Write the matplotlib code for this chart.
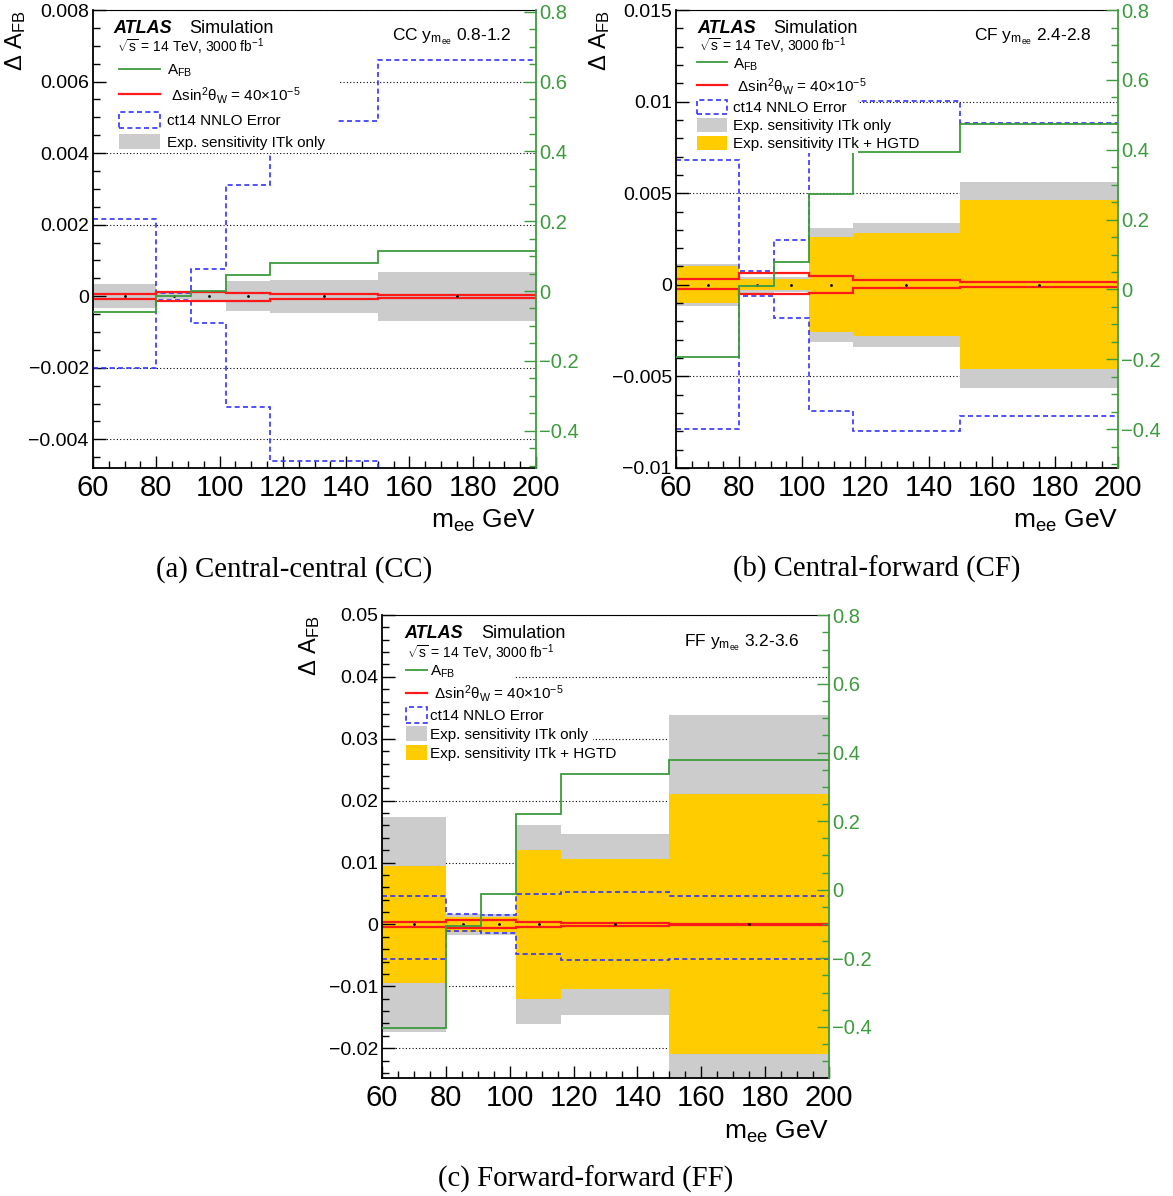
import matplotlib
matplotlib.use("Agg")
import matplotlib.pyplot as plt
from matplotlib.lines import Line2D
from matplotlib.patches import Patch, Rectangle
from matplotlib.ticker import MultipleLocator, FuncFormatter

plt.rcParams['font.family'] = ['Liberation Sans', 'DejaVu Sans']
plt.rcParams['mathtext.fontset'] = 'custom'
plt.rcParams['mathtext.rm'] = 'Liberation Sans'
plt.rcParams['mathtext.it'] = 'Liberation Sans:italic'
plt.rcParams['mathtext.bf'] = 'Liberation Sans:bold'

# m_ee bin edges (GeV)
edges = [60, 80, 91, 102, 116, 150, 200]
centers = [(a + b) / 2 for a, b in zip(edges[:-1], edges[1:])]
zeros = [0, 0, 0, 0, 0, 0]

# Central-central
cc_afb = [-0.061, -0.014, 0.001, 0.046, 0.080, 0.115]
cc_pdf_up = [0.00215, 0.0001, 0.00075, 0.0031, 0.0049, 0.0066]
cc_pdf_dn = [-0.0020, -0.0001, -0.00075, -0.0031, -0.0046, -0.0066]
cc_sin_up = [0.000065, 0.00013, 0.00013, 0.00009, 0.00007, 0.00004]
cc_sin_dn = [-0.000065, -0.00013, -0.00013, -0.00012, -0.00007, -0.00004]
cc_itk = [0.00033, 0.00008, 0.0001, 0.00042, 0.00046, 0.00068]

# Central-forward
cf_afb = [-0.192, 0.0105, 0.079, 0.274, 0.395, 0.474]
cf_pdf_up = [0.00679, 0.00076, 0.00242, 0.0095, 0.01005, 0.00884]
cf_pdf_dn = [-0.00785, -0.0006, -0.0018, -0.00691, -0.0080, -0.00715]
cf_sin_up = [0.00034, 0.00067, 0.00063, 0.00049, 0.00025, 0.00013]
cf_sin_dn = [-0.00023, -0.0005, -0.0005, -0.00042, -0.0002, -0.0001]
cf_itk = [0.00115, 0.00045, 0.0004, 0.00312, 0.00338, 0.00564]
cf_hgtd = [0.00102, 0.0003, 0.0003, 0.0026, 0.00282, 0.00462]

# Forward-forward
ff_afb = [-0.404, -0.107, -0.013, 0.222, 0.336, 0.378]
ff_pdf_up = [0.00457, 0.0017, 0.0015, 0.00484, 0.00527, 0.00457]
ff_pdf_dn = [-0.00565, -0.0010, -0.00134, -0.00484, -0.00575, -0.00554]
ff_sin_up = [0.00032, 0.0007, 0.0007, 0.00043, 0.00016, 0.0001]
ff_sin_dn = [-0.00038, -0.00065, -0.00065, -0.00038, -0.0002, -0.0001]
ff_itk = [0.0174, 0.0017, 0.0017, 0.0161, 0.0146, 0.0338]
ff_hgtd = [0.0095, 0.0012, 0.0012, 0.0121, 0.0105, 0.0210]

green = '#3d9b3d'
red = '#ff1a1a'
blue = '#3333ff'
gray = '#cccccc'
yellow = '#ffcc00'

fig = plt.figure(figsize=(11.73, 11.96), dpi=100)


def tick_fmt(v, pos):
    if abs(v) < 1e-12:
        return '0'
    return ('%g' % round(v, 6)).replace('-', '\u2212')


def panel(rect, ylim, ylim2, ymaj, ymin, afb, pdf_up, pdf_dn, sin_up, sin_dn, itk, hgtd,
          region, leg_anchor, leg_kw, boxes, ylab_x, caption, cap_xy, txt):
    ax = fig.add_axes(rect)
    ax.set_xlim(60, 200)
    ax.set_ylim(*ylim)

    # dotted grid at the major ticks
    y = ymaj * round(ylim[0] / ymaj)
    while y <= ylim[1] + 1e-12:
        ax.axhline(y, color='k', lw=0.8, ls=(0, (1, 2)), zorder=0.5)
        y += ymaj

    ax.stairs(itk, edges, baseline=[-v for v in itk], fill=True, color=gray, lw=0, zorder=1)
    if hgtd is not None:
        ax.stairs(hgtd, edges, baseline=[-v for v in hgtd], fill=True, color=yellow, lw=0, zorder=1.1)
    ax.stairs(pdf_up, edges, baseline=None, color=blue, lw=1.2, ls=(0, (3, 2)), zorder=2)
    ax.stairs(pdf_dn, edges, baseline=None, color=blue, lw=1.2, ls=(0, (3, 2)), zorder=2)
    ax.stairs(sin_up, edges, baseline=None, color=red, lw=1.6, zorder=2.2)
    ax.stairs(sin_dn, edges, baseline=None, color=red, lw=1.6, zorder=2.2)
    ax.plot(centers, zeros, 'k.', ms=2, zorder=2.4)

    ax.xaxis.set_major_locator(MultipleLocator(20))
    ax.xaxis.set_minor_locator(MultipleLocator(5))
    ax.yaxis.set_major_locator(MultipleLocator(ymaj))
    ax.yaxis.set_minor_locator(MultipleLocator(ymin))
    ax.yaxis.set_major_formatter(FuncFormatter(tick_fmt))
    ax.tick_params(which='both', direction='in', top=False, right=False, width=1)
    ax.tick_params(which='major', length=9)
    ax.tick_params(which='minor', length=5)
    ax.tick_params(axis='x', labelsize=21, pad=4)
    ax.tick_params(axis='y', labelsize=14, pad=3)
    ax.spines['right'].set_visible(False)
    ax.spines['left'].set_linewidth(1.3)
    ax.spines['bottom'].set_linewidth(1.3)
    ax.spines['top'].set_linewidth(0.8)

    ax.set_xlabel(r'm$_{\mathrm{ee}}$ GeV', fontsize=19, loc='right')
    ax.xaxis.set_label_coords(1.0, -0.088)
    ax.set_ylabel(r'$\Delta\ \mathrm{A_{FB}}$', fontsize=17, loc='top')
    ax.yaxis.set_label_coords(ylab_x, 1.0)

    ax2 = ax.twinx()
    ax2.set_ylim(*ylim2)
    ax2.stairs(afb, edges, baseline=None, color=green, lw=1.3, zorder=2)
    ax2.yaxis.set_major_locator(MultipleLocator(0.2))
    ax2.yaxis.set_minor_locator(MultipleLocator(0.05))
    ax2.yaxis.set_major_formatter(FuncFormatter(tick_fmt))
    ax2.tick_params(which='both', direction='in', colors=green, width=1)
    ax2.tick_params(which='major', length=9, labelsize=14.5, pad=2)
    ax2.tick_params(which='minor', length=5)
    for s in ['left', 'top', 'bottom']:
        ax2.spines[s].set_visible(False)
    ax2.spines['right'].set_color(green)
    ax2.spines['right'].set_linewidth(1.3)

    # white legend area, drawn over the curves but clear of the left ticks
    for (x0, y0, w, h) in boxes:
        ax2.add_patch(Rectangle((x0, y0), w, h, transform=ax2.transAxes,
                                facecolor='white', edgecolor='none', zorder=3))

    handles = [Line2D([], [], color=green, lw=1.3),
               Line2D([], [], color=red, lw=1.6),
               Patch(facecolor='white', edgecolor=blue, lw=1.2, ls=(0, (3, 2))),
               Patch(facecolor=gray, edgecolor='none')]
    labels = [r'A$_{\mathrm{FB}}$',
              r' $\Delta$sin$^{2}\mathrm{\theta}_{\mathrm{W}}$ = 40$\times$10$^{-5}$',
              'ct14 NNLO Error',
              'Exp. sensitivity ITk only']
    if hgtd is not None:
        handles.append(Patch(facecolor=yellow, edgecolor='none'))
        labels.append('Exp. sensitivity ITk + HGTD')
    leg = ax2.legend(handles, labels, loc='upper left', bbox_to_anchor=leg_anchor,
                     frameon=False, fontsize=11, borderpad=0, borderaxespad=0, **leg_kw)
    leg.set_zorder(6)

    (ax_x, ay), (sx, sy), (rx, ry) = txt
    ax2.text(ax_x, ay, 'ATLAS', transform=ax2.transAxes, fontsize=13, fontweight='bold',
             fontstyle='italic', va='baseline', zorder=6)
    ax2.text(ax_x + 0.172, ay, 'Simulation', transform=ax2.transAxes, fontsize=13,
             va='baseline', zorder=6)
    ax2.text(sx, sy, r'$\sqrt{\mathrm{s}}$ = 14 TeV, 3000 fb$^{\mathrm{-1}}$', transform=ax2.transAxes,
             fontsize=10, va='baseline', zorder=6)
    ax2.text(rx, ry, region, transform=ax2.transAxes, fontsize=12.5, va='baseline', zorder=6)

    fig.text(cap_xy[0], cap_xy[1], caption, fontsize=20.7, family='Liberation Serif',
             ha='center', va='baseline')


panel([0.0793, 0.6087, 0.3777, 0.3829], (-0.0048, 0.008), (-0.507, 0.805), 0.002, 0.0005,
      cc_afb, cc_pdf_up, cc_pdf_dn, cc_sin_up, cc_sin_dn, cc_itk, None,
      r'CC y$_{\mathrm{m_{ee}}}$ 0.8-1.2', (0.0587, 0.8865),
      dict(handlelength=2.7, handleheight=1.2, handletextpad=0.45, labelspacing=0.38),
      [(0.032, 0.688, 0.521, 0.24)], -0.147,
      '(a) Central-central (CC)', (0.2506, 0.5176),
      ((0.045, 0.9498), (0.054, 0.907), (0.675, 0.9345)))

panel([0.5763, 0.6087, 0.3768, 0.3829], (-0.01, 0.015), (-0.511, 0.8), 0.005, 0.001,
      cf_afb, cf_pdf_up, cf_pdf_dn, cf_sin_up, cf_sin_dn, cf_itk, cf_hgtd,
      r'CF y$_{\mathrm{m_{ee}}}$ 2.4-2.8', (0.0475, 0.899),
      dict(handlelength=1.95, handleheight=1.0, handletextpad=0.4, labelspacing=0.2),
      [(0.032, 0.688, 0.380, 0.24)], -0.145,
      '(b) Central-forward (CF)', (0.7477, 0.5176),
      ((0.0475, 0.9498), (0.052, 0.909), (0.674, 0.9345)))

panel([0.3257, 0.0987, 0.3811, 0.3871], (-0.0248, 0.05), (-0.549, 0.801), 0.01, 0.002,
      ff_afb, ff_pdf_up, ff_pdf_dn, ff_sin_up, ff_sin_dn, ff_itk, ff_hgtd,
      r'FF y$_{\mathrm{m_{ee}}}$ 3.2-3.6', (0.0537, 0.896),
      dict(handlelength=1.4, handleheight=1.15, handletextpad=0.2, labelspacing=0.2),
      [(0.032, 0.773, 0.2655, 0.16), (0.032, 0.676, 0.44, 0.097)], -0.134,
      '(c) Forward-forward (FF)', (0.4996, 0.0078),
      ((0.049, 0.9503), (0.056, 0.907), (0.676, 0.933)))

fig.savefig('out.png', dpi=100)
